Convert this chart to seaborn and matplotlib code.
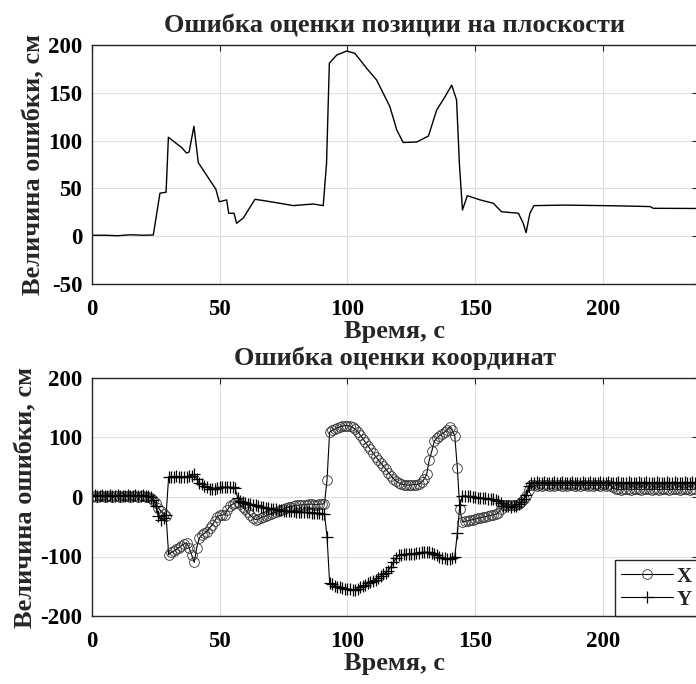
import numpy as np
import matplotlib
matplotlib.use("Agg")
import matplotlib.pyplot as plt
import seaborn as sns

# ---------------- data ----------------
# top: position error on the plane
t_pos = [0, 5, 10, 15, 20, 24, 26.6, 29, 29.9, 33, 35, 37, 38, 39.9, 41.6, 48.5, 49.8,
         52.7, 53.5, 55.6, 56.6, 59.2, 63.8, 67.7, 73.6, 78.8, 86.6, 90.5, 91.8, 92.9,
         95.8, 99.7, 102.9, 107.5, 111.4, 116.6, 119.3, 121.8, 127.1, 131.7, 134.9,
         138.2, 140.8, 142.7, 143.8, 145, 146.9, 151.9, 157.1, 160.3, 166.9, 168.8,
         169.9, 171.4, 173, 185, 200.1, 210, 218.4, 219.7, 236.5]
err_pos = [1, 1, 0.5, 1.5, 1, 1.3, 45, 46, 103.5, 97, 93, 87, 88, 115, 77, 49, 36,
           38, 24, 24, 13.5, 19, 38.6, 37, 34.4, 32, 33.7, 32, 76, 181,
           189.5, 193.7, 191.3, 175.6, 163.4, 135.5, 111, 98, 98.5, 104.8, 132,
           146, 158, 142.5, 76, 27.4, 42.4, 38, 34.4, 25.6, 24, 13.5,
           3.7, 24, 32, 32.5, 32, 31.5, 31, 29.2, 29]

# bottom: coordinate errors, one sample per second
err_x = [0, 1, 0, 2, 1, 0, 1, 2, 0, 1,
         1, 0, 2, 1, 1, 0, 2, 1, 0, 1,
         1, 0, 0, -2, -5, -10, -18, -24, -29, -32,
         -97, -93, -91, -88, -85, -82, -79, -77, -85, -97,
         -110, -85, -69, -64, -61, -58, -52, -47, -41, -33,
         -31, -30, -30, -22, -15, -12, -10, -9, -12, -17,
         -21, -26, -31, -35, -38, -37, -35, -33, -32, -30,
         -28, -27, -26, -24, -22, -20, -18, -17, -16, -15,
         -14, -14, -13, -13, -13, -12, -12, -13, -13, -12,
         -12, -11, 29, 109, 112, 114, 116, 118, 119, 120,
         120, 119, 117, 114, 110, 104, 98, 92, 86, 80,
         74, 68, 63, 57, 52, 47, 41, 36, 31, 27,
         24, 22, 21, 20, 20, 20, 21, 21, 22, 25,
         30, 38, 62, 77, 94, 99, 103, 106, 109, 113,
         117, 112, 103, 48, -21, -42, -41, -40, -39, -38,
         -37, -36, -35, -34, -33, -32, -31, -30, -29, -27,
         -20, -13, -13, -13, -13, -13, -13, -12, -8, -3,
         2, 12, 20, 20, 19, 20, 19, 20, 20, 19,
         20, 19, 20, 20, 19, 20, 19, 20, 20, 19,
         20, 19, 20, 20, 19, 20, 19, 20, 20, 19,
         20, 19, 20, 19, 16, 13, 13, 12, 13, 13,
         13, 12, 13, 13, 13, 12, 13, 13, 13, 12,
         13, 13, 12, 13, 13, 13, 12, 13, 13, 13,
         12, 13, 13, 13, 12, 13, 13]
err_y = [2, 3, 1, 2, 3, 2, 1, 3, 2, 2,
         3, 2, 2, 1, 3, 2, 2, 3, 1, 2,
         3, 2, 2, 0, -5, -15, -32, -38, -36, -30,
         34, 34, 33, 35, 34, 34, 33, 34, 35, 36,
         38, 30, 24, 22, 19, 17, 14, 13, 13, 15,
         16, 17, 16, 17, 16, 16, 15, -1, -6, -8,
         -10, -11, -12, -13, -14, -15, -16, -17, -18, -19,
         -20, -21, -21, -22, -22, -23, -23, -24, -24, -24,
         -25, -25, -25, -26, -26, -26, -27, -27, -27, -27,
         -28, -28, -67, -144, -147, -149, -151, -152, -153, -154,
         -155, -155, -156, -156, -154, -152, -150, -148, -145, -143,
         -141, -139, -136, -133, -130, -127, -124, -117, -110, -103,
         -98, -97, -96, -96, -95, -95, -95, -94, -94, -93,
         -93, -93, -93, -94, -96, -97, -100, -102, -103, -104,
         -105, -102, -100, -61, -13, 2, 2, 1, 1, 0,
         0, -1, -1, -2, -2, -3, -3, -4, -5, -7,
         -10, -15, -15, -15, -16, -15, -15, -12, -8, -4,
         3, 18, 24, 24, 25, 24, 24, 25, 24, 24,
         24, 25, 24, 24, 25, 24, 24, 24, 25, 24,
         24, 24, 25, 24, 24, 25, 24, 24, 24, 25,
         24, 24, 25, 24, 24, 24, 25, 24, 24, 24,
         25, 24, 24, 24, 25, 24, 24, 25, 24, 24,
         24, 25, 24, 24, 24, 25, 24, 24, 25, 24,
         24, 24, 25, 24, 24, 25, 24]
t_xy = list(range(len(err_x)))

xticks = [0, 50, 100, 150, 200]
yticks_top = [-50, 0, 50, 100, 150, 200]
yticks_bot = [-200, -100, 0, 100, 200]

# ---------------- style ----------------
sns.set_theme(style="whitegrid")
plt.rcParams['font.family'] = ['Liberation Serif', 'DejaVu Serif']
plt.rcParams['font.weight'] = 'bold'
plt.rcParams['axes.titleweight'] = 'bold'
plt.rcParams['axes.labelweight'] = 'bold'
plt.rcParams['axes.unicode_minus'] = False

dark = '#262626'

fig = plt.figure(figsize=(6.96, 6.84), dpi=100)
ax1 = fig.add_axes([92/696, 1-284/684, 605.5/696, 239/684])
ax2 = fig.add_axes([92/696, 1-616/684, 605.5/696, 238/684])


def style_axes(ax, ylim, yticks, title):
    ax.set_xlim(0, 237)
    ax.set_ylim(*ylim)
    ax.set_xticks(xticks)
    ax.set_yticks(yticks)
    ax.grid(True, color='#dedede', lw=0.8)
    ax.set_axisbelow(True)
    for s in ax.spines.values():
        s.set_visible(True)
        s.set_color(dark)
        s.set_linewidth(1.0)
    ax.tick_params(axis='both', direction='in', length=4, width=0.8, color=dark,
                   top=True, right=True, labelsize=16.5, labelcolor='black')
    ax.tick_params(axis='x', pad=11)
    ax.tick_params(axis='y', pad=7)
    ax.set_title(title, fontsize=19, fontweight='bold', pad=9)
    ax.set_xlabel('Время, с', fontsize=19, labelpad=0)
    ax.set_ylabel('Величина ошибки, см', fontsize=19, labelpad=2)


sns.lineplot(x=t_pos, y=err_pos, ax=ax1, color='black', lw=1.0)
style_axes(ax1, (-50, 200), yticks_top, 'Ошибка оценки позиции на плоскости')

sns.lineplot(x=t_xy, y=err_x, ax=ax2, color='black', lw=0.8, marker='o',
             markersize=7, markerfacecolor='none', markeredgecolor='#333333',
             markeredgewidth=0.6, label='X')
sns.lineplot(x=t_xy, y=err_y, ax=ax2, color='black', lw=0.8, marker='+',
             markersize=9, markeredgecolor='black', markeredgewidth=0.9, label='Y')
style_axes(ax2, (-200, 200), yticks_bot, 'Ошибка оценки координат')

leg = ax2.legend(loc='lower right', borderaxespad=0, fancybox=False, framealpha=1,
                 edgecolor=dark, handlelength=2.5, handletextpad=0.15,
                 borderpad=0.3, labelspacing=0.15,
                 prop={'weight': 'bold', 'size': 15})
leg.get_frame().set_linewidth(1.0)

fig.savefig('out.png', dpi=100)
